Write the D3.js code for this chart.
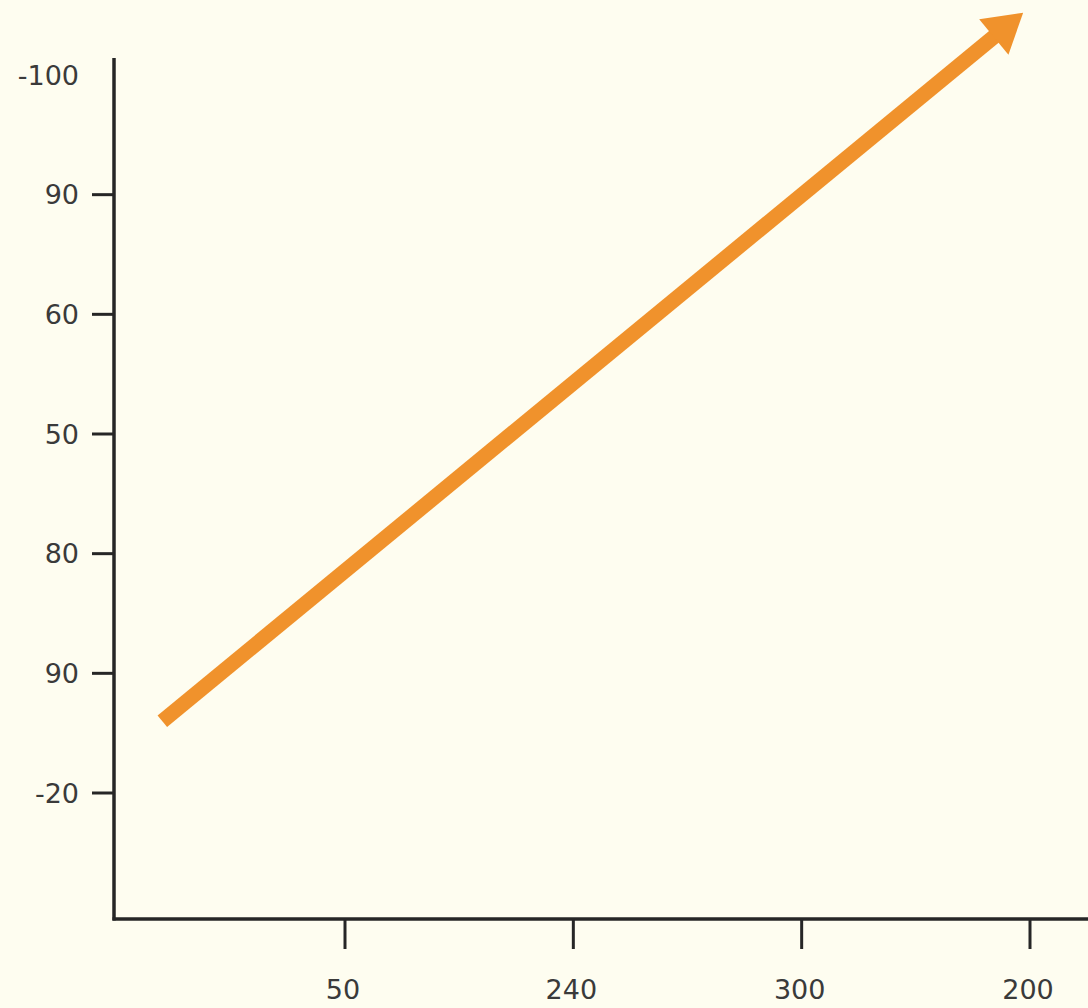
<!DOCTYPE html>
<html><head><meta charset="utf-8">
<script src="https://cdn.jsdelivr.net/npm/d3@7"></script>
<style>html,body{margin:0;padding:0;background:#fefdf0;}</style>
</head><body>
<svg id="c" width="1088" height="1008"></svg>
<script>
// Tick labels as they appear (categorical positions)
const xTickLabels = ["50","240","300","200"];
const yTickLabels = ["-100","90","60","50","80","90","-20"]; // top to bottom
// Arrow endpoints in tick-index units (x: index along x ticks, y: index along y ticks from top)
const arrowStart = {x: -0.80, y: 5.40};
const arrowEnd   = {x: 2.97, y: -0.52};

const svg = d3.select("#c");
const W = 1088, H = 1008;
svg.append("rect").attr("width",W).attr("height",H).attr("fill","#fefdf0");

const axisColor = "#262626", textColor = "#3a3a3a";
const x = d3.scaleLinear().domain([0, 3]).range([345, 1030]);
const y = d3.scaleLinear().domain([0, 6]).range([75, 793]);
const xAxisY = 919, yAxisX = 114;
const font = "DejaVu Sans", fs = 27;

// axes lines
svg.append("line").attr("x1",yAxisX).attr("x2",yAxisX).attr("y1",58).attr("y2",xAxisY+1.5)
  .attr("stroke",axisColor).attr("stroke-width",3.5);
svg.append("line").attr("x1",yAxisX-1.5).attr("x2",W).attr("y1",xAxisY).attr("y2",xAxisY)
  .attr("stroke",axisColor).attr("stroke-width",3.5);

// x ticks
const xg = svg.append("g");
xTickLabels.forEach((lab,i)=>{
  const px = x(i);
  xg.append("line").attr("x1",px).attr("x2",px).attr("y1",xAxisY).attr("y2",xAxisY+30)
    .attr("stroke",axisColor).attr("stroke-width",3);
  xg.append("text").attr("x",px-2).attr("y",999).attr("text-anchor","middle")
    .attr("font-family",font).attr("font-size",fs).attr("fill",textColor).text(lab);
});
// y ticks
const yg = svg.append("g");
yTickLabels.forEach((lab,i)=>{
  const py = y(i);
  if (i>0) yg.append("line").attr("x1",yAxisX-22).attr("x2",yAxisX).attr("y1",py).attr("y2",py)
    .attr("stroke",axisColor).attr("stroke-width",3);
  yg.append("text").attr("x",79).attr("y",py).attr("dy","0.36em").attr("text-anchor","end")
    .attr("font-family",font).attr("font-size",fs).attr("fill",textColor).text(lab);
});

// arrow
const arrowColor = "#f0922c";
const x0 = x(arrowStart.x), y0 = y(arrowStart.y), x1 = x(arrowEnd.x), y1 = y(arrowEnd.y);
const ang = Math.atan2(y1-y0, x1-x0);
const headLen = 38, headHalf = 23;
const bx = x1 - headLen*Math.cos(ang), by = y1 - headLen*Math.sin(ang);
svg.append("line").attr("x1",x0).attr("y1",y0).attr("x2",bx+4*Math.cos(ang)).attr("y2",by+4*Math.sin(ang))
  .attr("stroke",arrowColor).attr("stroke-width",15);
const px = -Math.sin(ang), py = Math.cos(ang);
svg.append("path").attr("d", d3.line()([[x1,y1],[bx+px*headHalf,by+py*headHalf],[bx-px*headHalf,by-py*headHalf]])+"Z")
  .attr("fill",arrowColor);
</script>
</body></html>
